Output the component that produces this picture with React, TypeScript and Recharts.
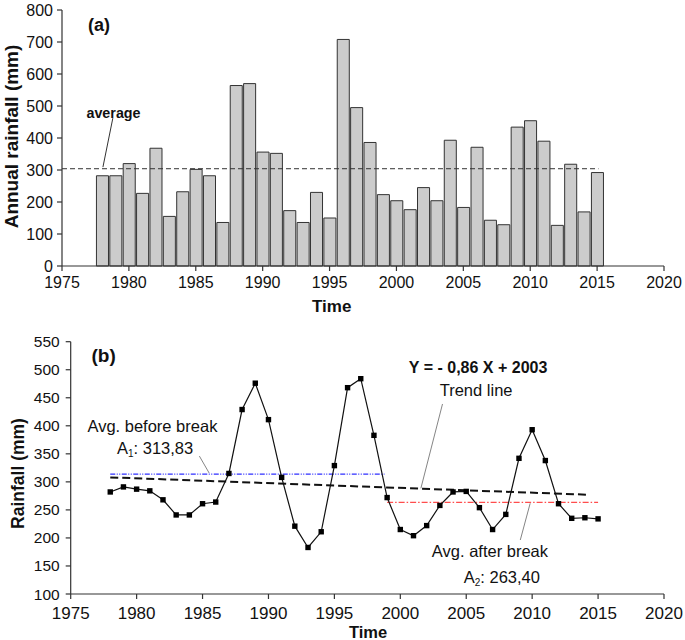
import React from 'react';
import { ComposedChart, Bar, Line, XAxis, YAxis, ReferenceLine, ReferenceDot } from 'recharts';

// ---------- data ----------
const years = [1978, 1979, 1980, 1981, 1982, 1983, 1984, 1985, 1986, 1987, 1988, 1989, 1990, 1991, 1992, 1993, 1994, 1995, 1996, 1997, 1998, 1999, 2000, 2001, 2002, 2003, 2004, 2005, 2006, 2007, 2008, 2009, 2010, 2011, 2012, 2013, 2014, 2015];
const annualRainfall = [282, 282, 320, 227, 368, 155, 232, 302, 282, 136, 564, 570, 356, 352, 173, 136, 230, 150, 708, 495, 386, 223, 204, 176, 245, 204, 393, 183, 371, 143, 129, 434, 454, 390, 127, 318, 169, 292];
const smoothedRainfall = [282, 291, 287, 284, 268, 241, 241, 261, 264, 315, 429, 476, 411, 308, 221, 183, 211, 329, 468, 484, 383, 272, 215, 204, 222, 258, 282, 283, 254, 215, 242, 342, 393, 338, 261, 235, 236, 234];

const yearTicks = [1975, 1980, 1985, 1990, 1995, 2000, 2005, 2010, 2015, 2020];
const ticksA = [0, 100, 200, 300, 400, 500, 600, 700, 800];
const ticksB = [100, 150, 200, 250, 300, 350, 400, 450, 500, 550];

const averageA = 304;
const averageStartYear = 1975;
const averageEndYear = 2015.1;

const avgBefore = 313.83;
const avgAfter = 263.4;
const breakStart = 1978;
const breakEndBefore = 1998.8;
const breakStartAfter = 1999;
const breakEnd = 2015;
const trendPoints = [
  { x: 1978, y: 308 },
  { x: 2014.3, y: 277 },
];

const dataA = years.map((y, i) => ({ year: y, rain: annualRainfall[i] }));
const dataB = years.map((y, i) => ({ year: y, rain: smoothedRainfall[i] }));

// ---------- styles ----------
const FONT = '"Liberation Sans", Arial, Helvetica, sans-serif';
const AXIS = '#333333';
const TXT = '#111111';

const SquareDot = (props: any) => {
  const { cx, cy, index } = props;
  if (cx == null || cy == null) return <g key={`d${index}`} />;
  return <rect key={`d${index}`} x={cx - 2.7} y={cy - 2.7} width={5.4} height={5.4} fill="#000" />;
};

const textShape = (content: React.ReactNode, size: number, weight: string | number = 'normal', anchor: string = 'middle') =>
  (p: any) => (
    <text
      x={p.cx}
      y={p.cy}
      textAnchor={anchor as any}
      dominantBaseline="central"
      fontFamily={FONT}
      fontSize={size}
      fontWeight={weight}
      fill={TXT}
    >
      {content}
    </text>
  );

const W = 685;
const H = 320;

export default function App() {
  return (
    <div style={{ position: 'absolute', left: 0, top: 0, width: W, height: 640, background: '#fff' }}>
      {/* Panel (a) */}
      <div style={{ position: 'absolute', left: 0, top: 0 }}>
        <ComposedChart width={W} height={H} data={dataA} margin={{ top: 10, right: 21, bottom: 0, left: 0 }}>
          <XAxis
            dataKey="year"
            type="number"
            domain={[1975, 2020]}
            ticks={yearTicks}
            interval={0}
            height={54}
            tickSize={5}
            tickMargin={6}
            axisLine={{ stroke: AXIS, strokeWidth: 1.2 }}
            tickLine={{ stroke: AXIS, strokeWidth: 1.2 }}
            tick={{ fill: TXT, fontSize: 16, fontFamily: FONT }}
            label={(p: any) => {
              const vb = p.viewBox;
              return (
                <text x={vb.x + 269.7} y={vb.y + 40.5} textAnchor="middle" dominantBaseline="central" fontFamily={FONT} fontSize={17} fontWeight="bold" fill={TXT}>
                  Time
                </text>
              );
            }}
          />
          <YAxis
            type="number"
            domain={[0, 800]}
            ticks={ticksA}
            interval={0}
            width={62}
            tickSize={5}
            tickMargin={4}
            axisLine={{ stroke: AXIS, strokeWidth: 1.2 }}
            tickLine={{ stroke: AXIS, strokeWidth: 1.2 }}
            tick={{ fill: TXT, fontSize: 16, fontFamily: FONT }}
            label={(p: any) => {
              const vb = p.viewBox;
              const cx = vb.x + 11;
              const cy = vb.y + 126.5;
              return (
                <text x={cx} y={cy} transform={`rotate(-90 ${cx} ${cy})`} textAnchor="middle" dominantBaseline="central" fontFamily={FONT} fontSize={19} fontWeight="bold" fill={TXT}>
                  Annual rainfall (mm)
                </text>
              );
            }}
          />
          <Bar dataKey="rain" fill="#cccccc" stroke="#333333" strokeWidth={1} barSize={602 / 45} isAnimationActive={false} />
          <ReferenceLine
            segment={[{ x: averageStartYear, y: averageA }, { x: averageEndYear, y: averageA }]}
            stroke="#333333"
            strokeWidth={1}
            strokeDasharray="5 3"
            ifOverflow="visible"
          />
          <ReferenceLine
            segment={[{ x: 1978.8, y: 462 }, { x: 1978.06, y: 309 }]}
            stroke="#333333"
            strokeWidth={1}
            ifOverflow="visible"
          />
          <ReferenceDot x={1978.85} y={478} r={1} ifOverflow="visible" shape={textShape('average', 14.3, 'bold')} />
          <ReferenceDot x={1977.77} y={753} r={1} ifOverflow="visible" shape={textShape('(a)', 18, 'bold')} />
        </ComposedChart>
      </div>

      {/* Panel (b) */}
      <div style={{ position: 'absolute', left: 0, top: 320 }}>
        <ComposedChart width={W} height={H} data={dataB} margin={{ top: 21.7, right: 21, bottom: 0, left: 0 }}>
          <XAxis
            dataKey="year"
            type="number"
            domain={[1975, 2020]}
            ticks={yearTicks}
            interval={0}
            height={46}
            tickSize={5}
            tickMargin={8}
            axisLine={{ stroke: AXIS, strokeWidth: 1.2 }}
            tickLine={{ stroke: AXIS, strokeWidth: 1.2 }}
            tick={{ fill: TXT, fontSize: 17, fontFamily: FONT }}
            label={(p: any) => {
              const vb = p.viewBox;
              return (
                <text x={vb.x + 297.3} y={vb.y + 37.5} textAnchor="middle" dominantBaseline="central" fontFamily={FONT} fontSize={16.5} fontWeight="bold" fill={TXT}>
                  Time
                </text>
              );
            }}
          />
          <YAxis
            type="number"
            domain={[100, 550]}
            ticks={ticksB}
            interval={0}
            width={70.7}
            tickSize={5}
            tickMargin={6}
            axisLine={{ stroke: AXIS, strokeWidth: 1.2 }}
            tickLine={{ stroke: AXIS, strokeWidth: 1.2 }}
            tick={{ fill: TXT, fontSize: 15.5, fontFamily: FONT }}
            label={(p: any) => {
              const vb = p.viewBox;
              const cx = vb.x + 17.5;
              const cy = vb.y + 131.8;
              return (
                <text x={cx} y={cy} transform={`rotate(-90 ${cx} ${cy})`} textAnchor="middle" dominantBaseline="central" fontFamily={FONT} fontSize={17.5} fontWeight="bold" fill={TXT}>
                  Rainfall (mm)
                </text>
              );
            }}
          />
          <ReferenceLine
            segment={[{ x: breakStart, y: avgBefore }, { x: breakEndBefore, y: avgBefore }]}
            stroke="#2f2fff"
            strokeWidth={1.3}
            strokeDasharray="5 1.5 1 1.5 1 1.5"
            ifOverflow="visible"
          />
          <ReferenceLine
            segment={[{ x: breakStartAfter, y: avgAfter }, { x: breakEnd, y: avgAfter }]}
            stroke="#ff4d4d"
            strokeWidth={1.3}
            strokeDasharray="6 2 1.5 2"
            ifOverflow="visible"
          />
          <ReferenceLine
            segment={trendPoints}
            stroke="#111111"
            strokeWidth={2}
            strokeDasharray="8 4"
            ifOverflow="visible"
          />
          <Line
            dataKey="rain"
            type="linear"
            stroke="#111111"
            strokeWidth={1.2}
            dot={SquareDot}
            activeDot={false}
            isAnimationActive={false}
          />
          {/* leader lines */}
          <ReferenceLine segment={[{ x: 1984.76, y: 346 }, { x: 1985.5, y: 315.8 }]} stroke="#777" strokeWidth={0.9} ifOverflow="visible" />
          <ReferenceLine segment={[{ x: 2003.2, y: 438.9 }, { x: 2001.56, y: 288.5 }]} stroke="#777" strokeWidth={0.9} ifOverflow="visible" />
          <ReferenceLine segment={[{ x: 2009.1, y: 196.3 }, { x: 2009.85, y: 261.8 }]} stroke="#777" strokeWidth={0.9} ifOverflow="visible" />
          {/* annotations */}
          <ReferenceDot x={1977.5} y={526} r={1} ifOverflow="visible" shape={textShape('(b)', 19, 'bold')} />
          <ReferenceDot x={1981.2} y={400} r={1} ifOverflow="visible" shape={textShape('Avg. before break', 16.5)} />
          <ReferenceDot
            x={1981.4}
            y={360.4}
            r={1}
            ifOverflow="visible"
            shape={textShape(
              <>
                A<tspan fontSize={10} dy={5}>1</tspan>
                <tspan dy={-5}>: 313,83</tspan>
              </>,
              16.5
            )}
          />
          <ReferenceDot x={2005.9} y={504.3} r={1} ifOverflow="visible" shape={textShape('Y = - 0,86 X + 2003', 16, 'bold')} />
          <ReferenceDot x={2005.75} y={463.8} r={1} ifOverflow="visible" shape={textShape('Trend line', 16.5)} />
          <ReferenceDot x={2006.8} y={177.2} r={1} ifOverflow="visible" shape={textShape('Avg. after break', 16.5)} />
          <ReferenceDot
            x={2007.7}
            y={130.9}
            r={1}
            ifOverflow="visible"
            shape={textShape(
              <>
                A<tspan fontSize={10} dy={5}>2</tspan>
                <tspan dy={-5}>: 263,40</tspan>
              </>,
              16.5
            )}
          />
        </ComposedChart>
      </div>
    </div>
  );
}
